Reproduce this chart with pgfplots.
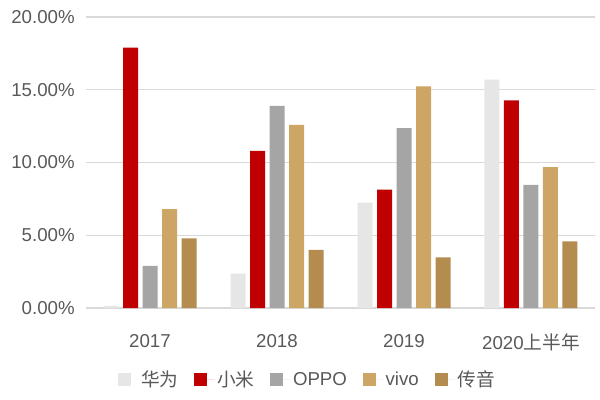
\documentclass[border=0pt]{standalone}
\usepackage{fontspec}
\setmainfont{Liberation Sans}
\newfontfamily\cjk{Noto Sans CJK SC}
\usepackage{pgfplots}
\pgfplotsset{compat=1.18}
\definecolor{hw}{RGB}{230,230,230}
\definecolor{xm}{RGB}{192,0,0}
\definecolor{op}{RGB}{165,165,165}
\definecolor{vv}{RGB}{205,165,100}
\definecolor{cy}{RGB}{180,140,80}
\definecolor{txt}{RGB}{89,89,89}
\definecolor{grd}{RGB}{217,217,217}
\begin{document}
\begin{tikzpicture}
\begin{axis}[name=ax, scale only axis, width=381.75pt, height=218.25pt,
  ybar=3.375pt, bar width=11.25pt,
  xmin=-0.504, xmax=3.504, ymin=0, ymax=20,
  xtick={0,1,2,3}, xticklabels={2017,2018,2019,{2020{\cjk 上半年}}},
  ytick={0,5,10,15,20}, yticklabels={0.00\%,5.00\%,10.00\%,15.00\%,20.00\%},
  ymajorgrids, grid style={grd, line width=0.8pt},
  axis x line*=bottom, axis y line*=left,
  x axis line style={grd, line width=0.8pt, -}, y axis line style={draw=none},
  major tick length=0pt,
  tick label style={font=\fontsize{14}{16}\selectfont, text=txt},
  yticklabel style={xshift=-5pt},
  xticklabel style={yshift=-16pt},
  legend columns=5,
  legend style={draw=none, at={(0.436,-0.247)}, anchor=center, font=\fontsize{14}{16}\selectfont, text=txt,
    /tikz/every even column/.append style={column sep=10pt}},
  legend image code/.code={\fill[#1] (0pt,-4.9pt) rectangle (9.75pt,4.9pt); \path (0pt,0pt) -- (15pt,0pt);},
]
\addplot[fill=hw, draw=none] coordinates {(0,0.15) (1,2.36) (2,7.24) (3,15.69)};
\addplot[fill=xm, draw=none] coordinates {(0,17.9) (1,10.8) (2,8.13) (3,14.27)};
\addplot[fill=op, draw=none] coordinates {(0,2.9) (1,13.9) (2,12.37) (3,8.47)};
\addplot[fill=vv, draw=none] coordinates {(0,6.8) (1,12.58) (2,15.23) (3,9.69)};
\addplot[fill=cy, draw=none] coordinates {(0,4.78) (1,4.0) (2,3.48) (3,4.58)};
\legend{{\cjk 华为},{\cjk 小米},OPPO,vivo,{\cjk 传音}}
\end{axis}
\pgfresetboundingbox
\path[use as bounding box] ([shift={(-64.5pt,-69pt)}]ax.south west) rectangle ([shift={(3.75pt,12.75pt)}]ax.north east);
\end{tikzpicture}
\end{document}
